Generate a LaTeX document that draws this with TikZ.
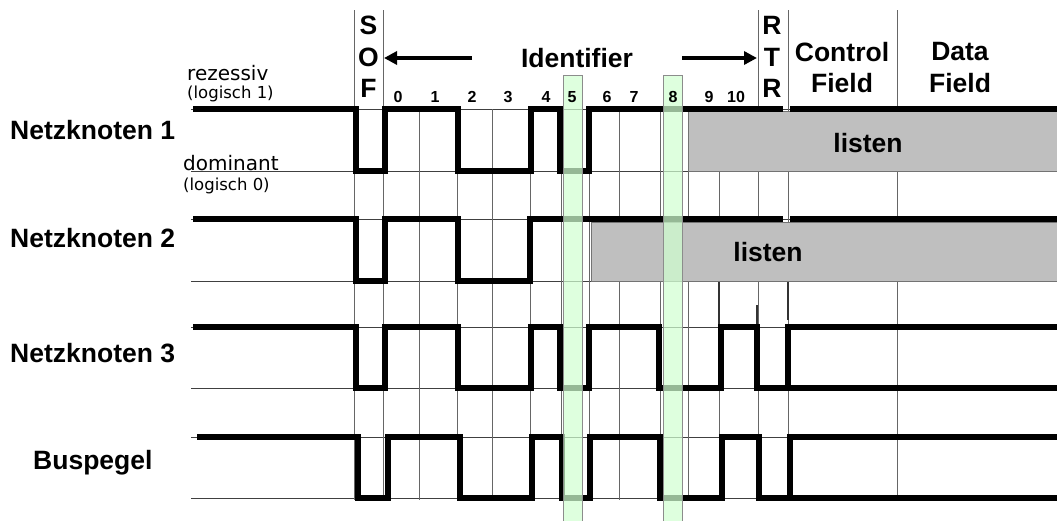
\documentclass[tikz,border=0pt]{standalone}
\usepackage{fontspec}
\setmainfont{Liberation Sans}
\newfontfamily\dejavu{DejaVu Sans}
\usepackage{tikz}
\usetikzlibrary{arrows.meta}
\usepackage{xcolor}

\tikzset{
  pegel/.style={line width=5.6pt,line join=miter},
  raster/.style={black!60,line width=1pt},
  niveau/.style={black!75,line width=0.9pt},
  band/.style={fill=green!18,fill opacity=0.72,draw=black!45,line width=0.8pt},
  hoerbox/.style={fill=black!25,draw=black!55,line width=0.6pt},
  kopf/.style={font=\fontsize{26.5}{28}\selectfont\bfseries,inner sep=0pt},
  bitnr/.style={font=\fontsize{16}{17}\selectfont\bfseries,inner sep=0pt},
  pegeltext/.style={font=\dejavu\fontsize{20}{22}\selectfont,inner sep=0pt,anchor=west},
  logtext/.style={font=\dejavu\fontsize{16.5}{18}\selectfont,inner sep=0pt,anchor=west},
}

\begin{document}
\begin{tikzpicture}[x=1pt,y=-1pt,>={Triangle[length=13pt,width=13pt]},line cap=butt]
\useasboundingbox (0,0) rectangle (1057,520);
% pegel lines of the four rows
\draw[niveau] (191,109) -- (1057,109);
\draw[niveau] (191,171) -- (1057,171);
\draw[niveau] (191,219) -- (1057,219);
\draw[niveau] (191,281) -- (1057,281);
\draw[niveau] (191,327) -- (1057,327);
\draw[niveau] (191,388) -- (1057,388);
\draw[niveau] (191,437) -- (1057,437);
\draw[niveau] (191,498) -- (1057,498);
% field borders and bit borders
\draw[raster] (354,10) -- (354,500);
\draw[raster] (383,10) -- (383,500);
\draw[raster] (758,10) -- (758,500);
\draw[raster] (788,10) -- (788,500);
\draw[raster] (897,10) -- (897,500);
\draw[raster] (419,109) -- (419,500);
\draw[raster] (457,109) -- (457,500);
\draw[raster] (492,109) -- (492,500);
\draw[raster] (530,109) -- (530,500);
\draw[raster] (561,109) -- (561,500);
\draw[raster] (589,109) -- (589,500);
\draw[raster] (619,109) -- (619,500);
\draw[raster] (660,109) -- (660,500);
\draw[raster] (688,109) -- (688,500);
\draw[raster] (719,109) -- (719,500);
\draw[black!80,line width=2pt] (719,282) -- (719,327);
\draw[black!80,line width=2pt] (757,305) -- (757,327);
\draw[black!80,line width=2pt] (788,282) -- (788,320);
% listen areas
\draw[hoerbox] (688,111) rectangle (1057,171);
\draw[hoerbox] (591,222) rectangle (1057,281);
% Netzknoten 1
\draw[pegel] (193,109) -- (356,109) -- (356,171) -- (385,171) -- (385,109) -- (458,109) -- (458,171) -- (531,171) -- (531,109) -- (560,109) -- (560,171) -- (589,171) -- (589,109) -- (783,109);
\draw[pegel] (790,109) -- (1057,109);
% Netzknoten 2
\draw[pegel] (193,219) -- (356,219) -- (356,281) -- (385,281) -- (385,219) -- (458,219) -- (458,281) -- (530,281) -- (530,219) -- (783,219);
\draw[pegel] (790,219) -- (1057,219);
% Netzknoten 3
\draw[pegel] (193,327) -- (356,327) -- (356,388) -- (385,388) -- (385,327) -- (458,327) -- (458,388) -- (531,388) -- (531,327) -- (560,327) -- (560,388) -- (589,388) -- (589,327) -- (659,327) -- (659,388) -- (721,388) -- (721,327) -- (757,327) -- (757,388) -- (1057,388);
\draw[pegel] (788,388) -- (788,327) -- (1057,327);
% Buspegel
\draw[pegel] (197,437) -- (358,437) -- (358,498) -- (388,498) -- (388,437) -- (460,437) -- (460,498) -- (532,498) -- (532,437) -- (562,437) -- (562,498) -- (590,498) -- (590,437) -- (660,437) -- (660,498) -- (722,498) -- (722,437) -- (759,437) -- (759,498) -- (1057,498);
\draw[pegel] (790,498) -- (790,437) -- (1057,437);
% bits 5 and 8
\draw[band] (563,75) rectangle (582,521);
\draw[band] (663,75) rectangle (682,521);
% header
\node[kopf] (s1) at (368.5,25) {S};
\node[kopf] (o1) at (368.5,57) {O};
\node[kopf] (f1) at (368.5,88) {F};
\node[kopf] (r1) at (772,25) {R};
\node[kopf] (t1) at (772,57) {T};
\node[kopf] (r2) at (772,88) {R};
\node[kopf] (ident) at (577,58) {Identifier};
\coordinate (idL) at (472,58);
\coordinate (sofE) at (384,58);
\coordinate (idR) at (682,58);
\coordinate (rtrW) at (757,58);
\draw[->,line width=4pt] (idL) -- (sofE);
\draw[->,line width=4pt] (idR) -- (rtrW);
\node[kopf] (ctrl) at (842,52) {Control};
\node[kopf] (ctrlf) at (842,83) {Field};
\node[kopf] (data) at (960,52) {Data};
\node[kopf] (dataf) at (960,83) {Field};
\node[bitnr] (b0) at (398,97) {0};
\node[bitnr] (b1) at (435,97) {1};
\node[bitnr] (b2) at (472,97) {2};
\node[bitnr] (b3) at (508,97) {3};
\node[bitnr] (b4) at (546,97) {4};
\node[bitnr] (b5) at (572,97) {5};
\node[bitnr] (b6) at (607,97) {6};
\node[bitnr] (b7) at (634,97) {7};
\node[bitnr] (b8) at (673,97) {8};
\node[bitnr] (b9) at (709,97) {9};
\node[bitnr] (b10) at (736,97) {10};
% row labels
\node[kopf,anchor=west] (nk1) at (10,130) {Netzknoten 1};
\node[kopf,anchor=west] (nk2) at (10,238) {Netzknoten 2};
\node[kopf,anchor=west] (nk3) at (10,353) {Netzknoten 3};
\node[kopf,anchor=west] (bus) at (33,463) {Buspegel};
\node[pegeltext] (rez) at (187,73) {rezessiv};
\node[logtext] (log1) at (187,94) {(logisch 1)};
\node[pegeltext] (dom) at (183,163) {dominant};
\node[logtext] (log0) at (183,186) {(logisch 0)};
\node[kopf] (hoer1) at (868,143) {listen};
\node[kopf] (hoer2) at (768,252) {listen};
\end{tikzpicture}
\end{document}
